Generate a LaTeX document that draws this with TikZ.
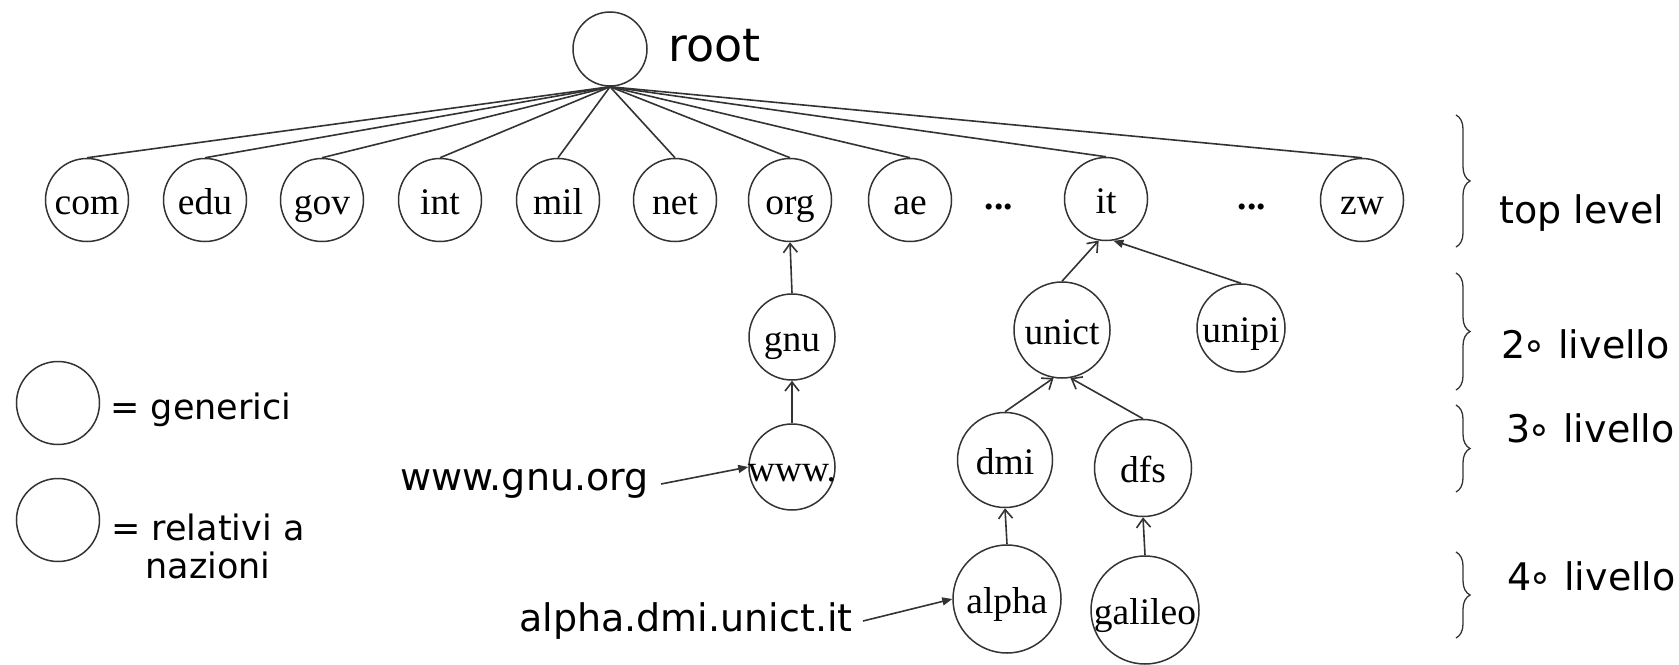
\documentclass[tikz,border=0pt]{standalone}
\usepackage{fontspec}
\setmainfont{Liberation Serif}
\newfontfamily\handfont{DejaVu Sans}
\usetikzlibrary{arrows.meta,decorations.pathreplacing}
\definecolor{ink}{HTML}{333333}

\begin{document}
\begin{tikzpicture}[x=0.5pt,y=-0.5pt,
  dom/.style={circle, draw=ink, line width=0.75pt, inner sep=-6pt, minimum size=#1,
              text height=14.5pt, text depth=0pt,
              font=\fontsize{18.75}{20}\selectfont, text=black},
  tld/.style={dom=41.5pt},
  dotsep/.style={font=\bfseries\fontsize{18.75}{20}\selectfont, inner sep=0pt},
  hand/.style={font=\handfont\fontsize{19}{22}\selectfont, text=black, inner sep=0pt},
  legend/.style={font=\handfont\fontsize{17.5}{20}\selectfont, text=black, inner sep=0pt},
  link/.style={draw=ink, line width=0.8pt},
  up/.style={link, -{Straight Barb[length=4.5pt,width=7pt]}},
  ptr/.style={link, -{Triangle[length=5pt,width=4pt]}},
  lvl/.style={draw=ink, line width=0.65pt, decorate, decoration={brace, amplitude=7pt}}]
\useasboundingbox (0,0) rectangle (1679,664);

% root of the name space
\node[dom=37pt] (root) at (610,49) {};
\node[hand, font=\handfont\fontsize{23}{26}\selectfont, anchor=west] (rootlbl) at (668,46) {root};

% top level domains
\node[tld] (com) at (87,200) {com};
\node[tld] (edu) at (205,200) {edu};
\node[tld] (gov) at (322,200) {gov};
\node[tld] (int) at (440,200) {int};
\node[tld] (mil) at (558,200) {mil};
\node[tld] (net) at (675,200) {net};
\node[tld] (org) at (790,200) {org};
\node[tld] (ae)  at (910,200) {ae};
\node[dotsep] (more1) at (999,207) {...};
\node[tld] (it)  at (1106,199) {it};
\node[dotsep] (more2) at (1252,207) {...};
\node[tld] (zw)  at (1362,200) {zw};

\foreach \t in {com,edu,gov,int,mil,net,org,ae,it,zw}
  \draw[link] (root.south) -- (\t.north);

% second, third and fourth level
\node[dom=43pt] (gnu) at (792,337) {gnu};
\node[dom=43pt] (www) at (792,467) {www.};
\node[dom=48pt] (unict) at (1062,330) {unict};
\node[dom=44pt] (unipi) at (1241,328) {unipi};
\node[dom=47.5pt] (dmi) at (1005,460) {dmi};
\node[dom=48.5pt] (dfs) at (1143,468) {dfs};
\node[dom=54pt] (alpha) at (1007,599) {alpha};
\node[dom=54pt] (galileo) at (1145,610) {galileo};

\draw[up] (gnu.north) -- (org.south);
\draw[up] (www.north) -- (gnu.south);
\draw[up] (unict.north) -- (it.-100);
\draw[ptr] (unipi.north) -- (it.-80);
\draw[up] (dmi.north) -- (unict.-100);
\draw[up] (dfs.north) -- (unict.-80);
\draw[up] (alpha.north) -- (dmi.south);
\draw[up] (galileo.north) -- (dfs.south);

% fully qualified names
\node[hand, anchor=east] (wwwname) at (649,484) {www.gnu.org};
\node[hand, anchor=east] (alphaname) at (853,621) {alpha.dmi.unict.it};
\draw[ptr] ([xshift=6pt]wwwname.east) -- (www.west);
\draw[ptr] ([xshift=5pt]alphaname.east) -- (alpha.west);

% legend
\node[dom=41.5pt] (gen) at (58,403) {};
\node[dom=41.5pt] (naz) at (58,520) {};
\node[legend, anchor=west] (genlbl) at (110,410) {= generici};
\node[legend, align=center] (nazlbl) at (208,546) {= relativi a\\[-1pt] nazioni};

% levels
\draw[lvl] (1456,115) -- (1456,247);
\draw[lvl] (1456,273) -- (1456,390);
\draw[lvl] (1456,405) -- (1456,492);
\draw[lvl] (1456,552) -- (1456,638);
\node[hand, anchor=west] (l1) at (1499,213) {top level};
\node[hand, anchor=west] (l2) at (1501,344) {2\kern-0.08em∘ livello};
\node[hand, anchor=west] (l3) at (1506,428) {3\kern-0.08em∘ livello};
\node[hand, anchor=west] (l4) at (1507,576) {4\kern-0.08em∘ livello};
\end{tikzpicture}
\end{document}
